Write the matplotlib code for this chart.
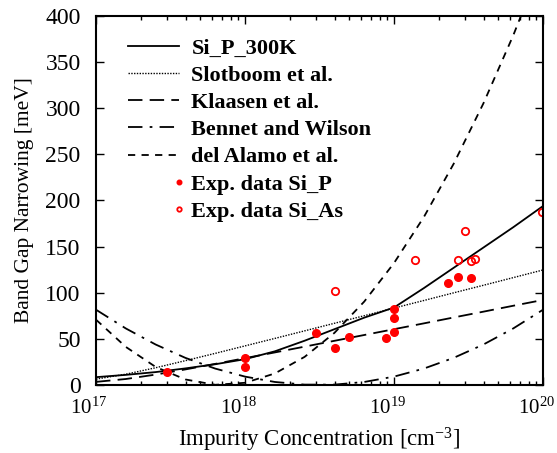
import numpy as np
import matplotlib
matplotlib.use('Agg')
from matplotlib import pyplot as plt
from matplotlib.legend_handler import HandlerLine2D
from matplotlib.ticker import LogLocator, LogFormatterMathtext, MultipleLocator
from matplotlib.transforms import ScaledTranslation

plt.rcParams['font.family'] = ['Liberation Serif', 'DejaVu Serif']
plt.rcParams['mathtext.fontset'] = 'custom'
plt.rcParams['mathtext.rm'] = 'Liberation Serif'
plt.rcParams['mathtext.it'] = 'Liberation Serif:italic'

# model curves, read at every 0.2 decade (log10 of concentration)
log_conc = [17.0, 17.2, 17.4, 17.6, 17.8, 18.0, 18.2, 18.4,
            18.6, 18.8, 19.0, 19.2, 19.4, 19.6, 19.8, 20.0]
si_p_300k = [8.5, 11, 14, 18, 22.5, 28, 36.5, 48,
             60.5, 73, 84, 105, 127, 149, 171, 194]
slotboom = [6.4, 11.7, 18.7, 26.4, 34.3, 42.4, 50.5, 58.7,
            66.9, 75.1, 83.4, 91.6, 99.9, 108.1, 116.4, 124.7]
klaasen = [3.4, 6.5, 11.3, 16.9, 22.9, 29.1, 35.3, 41.6,
           47.9, 54.2, 60.5, 66.8, 73.2, 79.5, 85.9, 92.2]
bennet = [81.6, 61.3, 43.9, 29.4, 17.8, 9.1, 3.3, 0.4,
          0.4, 3.3, 9.1, 17.8, 29.4, 43.9, 61.3, 81.6]
del_alamo = [70.8, 41.3, 19.6, 6.0, 0.2, 2.4, 12.5, 30.5,
             56.5, 90.4, 132.2, 182.0, 239.7, 305.3, 378.9, 460.4]

# experimental points
exp_p_conc = [3e17, 1e18, 1e18, 3e18, 4e18, 5e18, 8.9e18, 1e19, 1e19, 1e19,
              2.3e19, 2.7e19, 3.3e19]
exp_p_bgn = [14, 29, 19, 56, 40, 52, 50.6, 82, 73, 57, 111, 117, 116]
exp_as_conc = [4e18, 1.39e19, 2.7e19, 3.0e19, 3.3e19, 3.5e19, 9.9e19]
exp_as_bgn = [102, 135, 135, 167, 134, 137, 188]

conc = 10.0 ** np.array(log_conc)


class RightMarker(HandlerLine2D):
    # gnuplot style: point sits at the right end of the key sample
    def create_artists(self, legend, orig_handle, xdescent, ydescent,
                       width, height, fontsize, trans):
        arts = super().create_artists(legend, orig_handle, xdescent, ydescent,
                                      width, height, fontsize, trans)
        for a in arts:
            a.set_xdata(np.full(len(a.get_xdata()), width - xdescent))
        return arts


fig = plt.figure(figsize=(5.57, 4.53), dpi=100)
ax = fig.add_axes([0.1724, 0.1501, 0.8025, 0.8146])

lw = 1.3
ax.plot(conc, si_p_300k, '-', color='black', lw=lw, label='Si_P_300K')
ax.plot(conc, slotboom, color='black', lw=1.0, ls=(0, (1, 1)), label='Slotboom et al.')
ax.plot(conc, klaasen, color='black', lw=lw, ls=(0, (8, 4)), label='Klaasen et al.')
ax.plot(conc, bennet, color='black', lw=lw, ls=(0, (8, 4, 1.5, 4)), label='Bennet and Wilson')
ax.plot(conc, del_alamo, color='black', lw=lw, ls=(0, (4, 3.5)), label='del Alamo et al.')
p1, = ax.plot(exp_p_conc, exp_p_bgn, 'o', color='red', ms=5.5, mec='red',
              label='Exp. data Si_P')
p2, = ax.plot(exp_as_conc, exp_as_bgn, 'o', mfc='none', mec='red', ms=5.3, mew=1.3,
              label='Exp. data Si_As')

ax.set_xscale('log')
ax.set_xlim(1e17, 1e20)
ax.set_ylim(0, 400)
ax.yaxis.set_major_locator(MultipleLocator(50))
ax.xaxis.set_major_locator(LogLocator(base=10))
ax.xaxis.set_minor_locator(LogLocator(base=10, subs=np.arange(2, 10)))
ax.xaxis.set_major_formatter(LogFormatterMathtext())

ax.tick_params(which='both', direction='in', top=True, right=True, width=1.0)
ax.tick_params(which='major', length=6)
ax.tick_params(which='minor', length=3)
ax.tick_params(axis='x', pad=9, labelsize=15)
ax.tick_params(axis='y', pad=11, labelsize=17)
for s in ax.spines.values():
    s.set_linewidth(1.5)

# nudge the decade labels a little left so 10^20 fits like in the original
shift = ScaledTranslation(-5 / 72, 0, fig.dpi_scale_trans)
for lab in ax.get_xticklabels():
    lab.set_transform(lab.get_transform() + shift)

ax.set_xlabel('Impurity Concentration [cm$^{-3}$]', fontsize=16.5, labelpad=5)
ax.set_ylabel('Band Gap Narrowing [meV]', fontsize=15.5, labelpad=8)

leg = ax.legend(loc='upper left', bbox_to_anchor=(0.027, 0.995), frameon=False,
                prop={'weight': 'bold', 'size': 16}, handlelength=2.3,
                handletextpad=0.55, labelspacing=0.3, markerscale=0.6,
                numpoints=1,
                handler_map={p1: RightMarker(), p2: RightMarker()})

fig.savefig('out.png', dpi=100)
